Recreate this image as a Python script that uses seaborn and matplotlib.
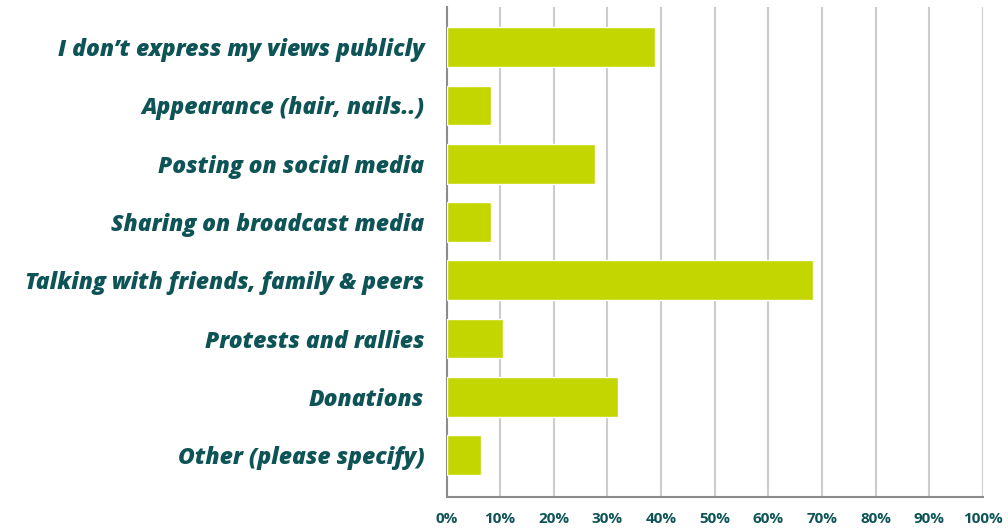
import matplotlib
matplotlib.use("Agg")
import matplotlib.pyplot as plt
import seaborn as sns
import pandas as pd

CATEGORIES = [
    "I don\u2019t express my views publicly",
    "Appearance (hair, nails..)",
    "Posting on social media",
    "Sharing on broadcast media",
    "Talking with friends, family & peers",
    "Protests and rallies",
    "Donations",
    "Other (please specify)",
]
VALUES = [38.9, 8.3, 27.7, 8.3, 68.3, 10.5, 32.0, 6.4]
XTICKS = [0, 10, 20, 30, 40, 50, 60, 70, 80, 90, 100]
XTICK_LABELS = [f"{t}%" for t in XTICKS]

BAR_COLOR = "#c4d600"
TEXT_COLOR = "#0e5457"

sns.set_style("white")
plt.rcParams["font.family"] = ["Open Sans", "DejaVu Sans"]

df = pd.DataFrame({"category": CATEGORIES, "value": VALUES})

fig = plt.figure(figsize=(10.08, 5.30), dpi=100)
ax = fig.add_axes([0.443, 0.0623, 0.532, 0.9245])

sns.barplot(data=df, x="value", y="category", color=BAR_COLOR,
            width=0.68, saturation=1, ax=ax, zorder=3)

ax.set_xlim(0, 100)
ax.set_ylim(7.72, -0.69)
ax.set_xticks(XTICKS)
ax.set_xticklabels(XTICK_LABELS)
ax.set_xlabel("")
ax.set_ylabel("")

ax.grid(axis="x", color="#cccccc", linewidth=1.5, zorder=0)
ax.grid(axis="y", visible=False)
ax.set_axisbelow(True)

for side in ["top", "right"]:
    ax.spines[side].set_visible(False)
for side in ["left", "bottom"]:
    ax.spines[side].set_color("#8c8c8c")
    ax.spines[side].set_linewidth(1.5)

ax.tick_params(axis="y", length=0, pad=16)
ax.tick_params(axis="x", length=0, pad=11)
for lbl in ax.get_yticklabels():
    lbl.set_fontsize(16.5)
    lbl.set_fontweight("heavy")
    lbl.set_fontstyle("italic")
    lbl.set_color(TEXT_COLOR)
for lbl in ax.get_xticklabels():
    lbl.set_fontsize(11)
    lbl.set_fontweight("bold")
    lbl.set_color(TEXT_COLOR)

fig.savefig("out.png", dpi=100)
